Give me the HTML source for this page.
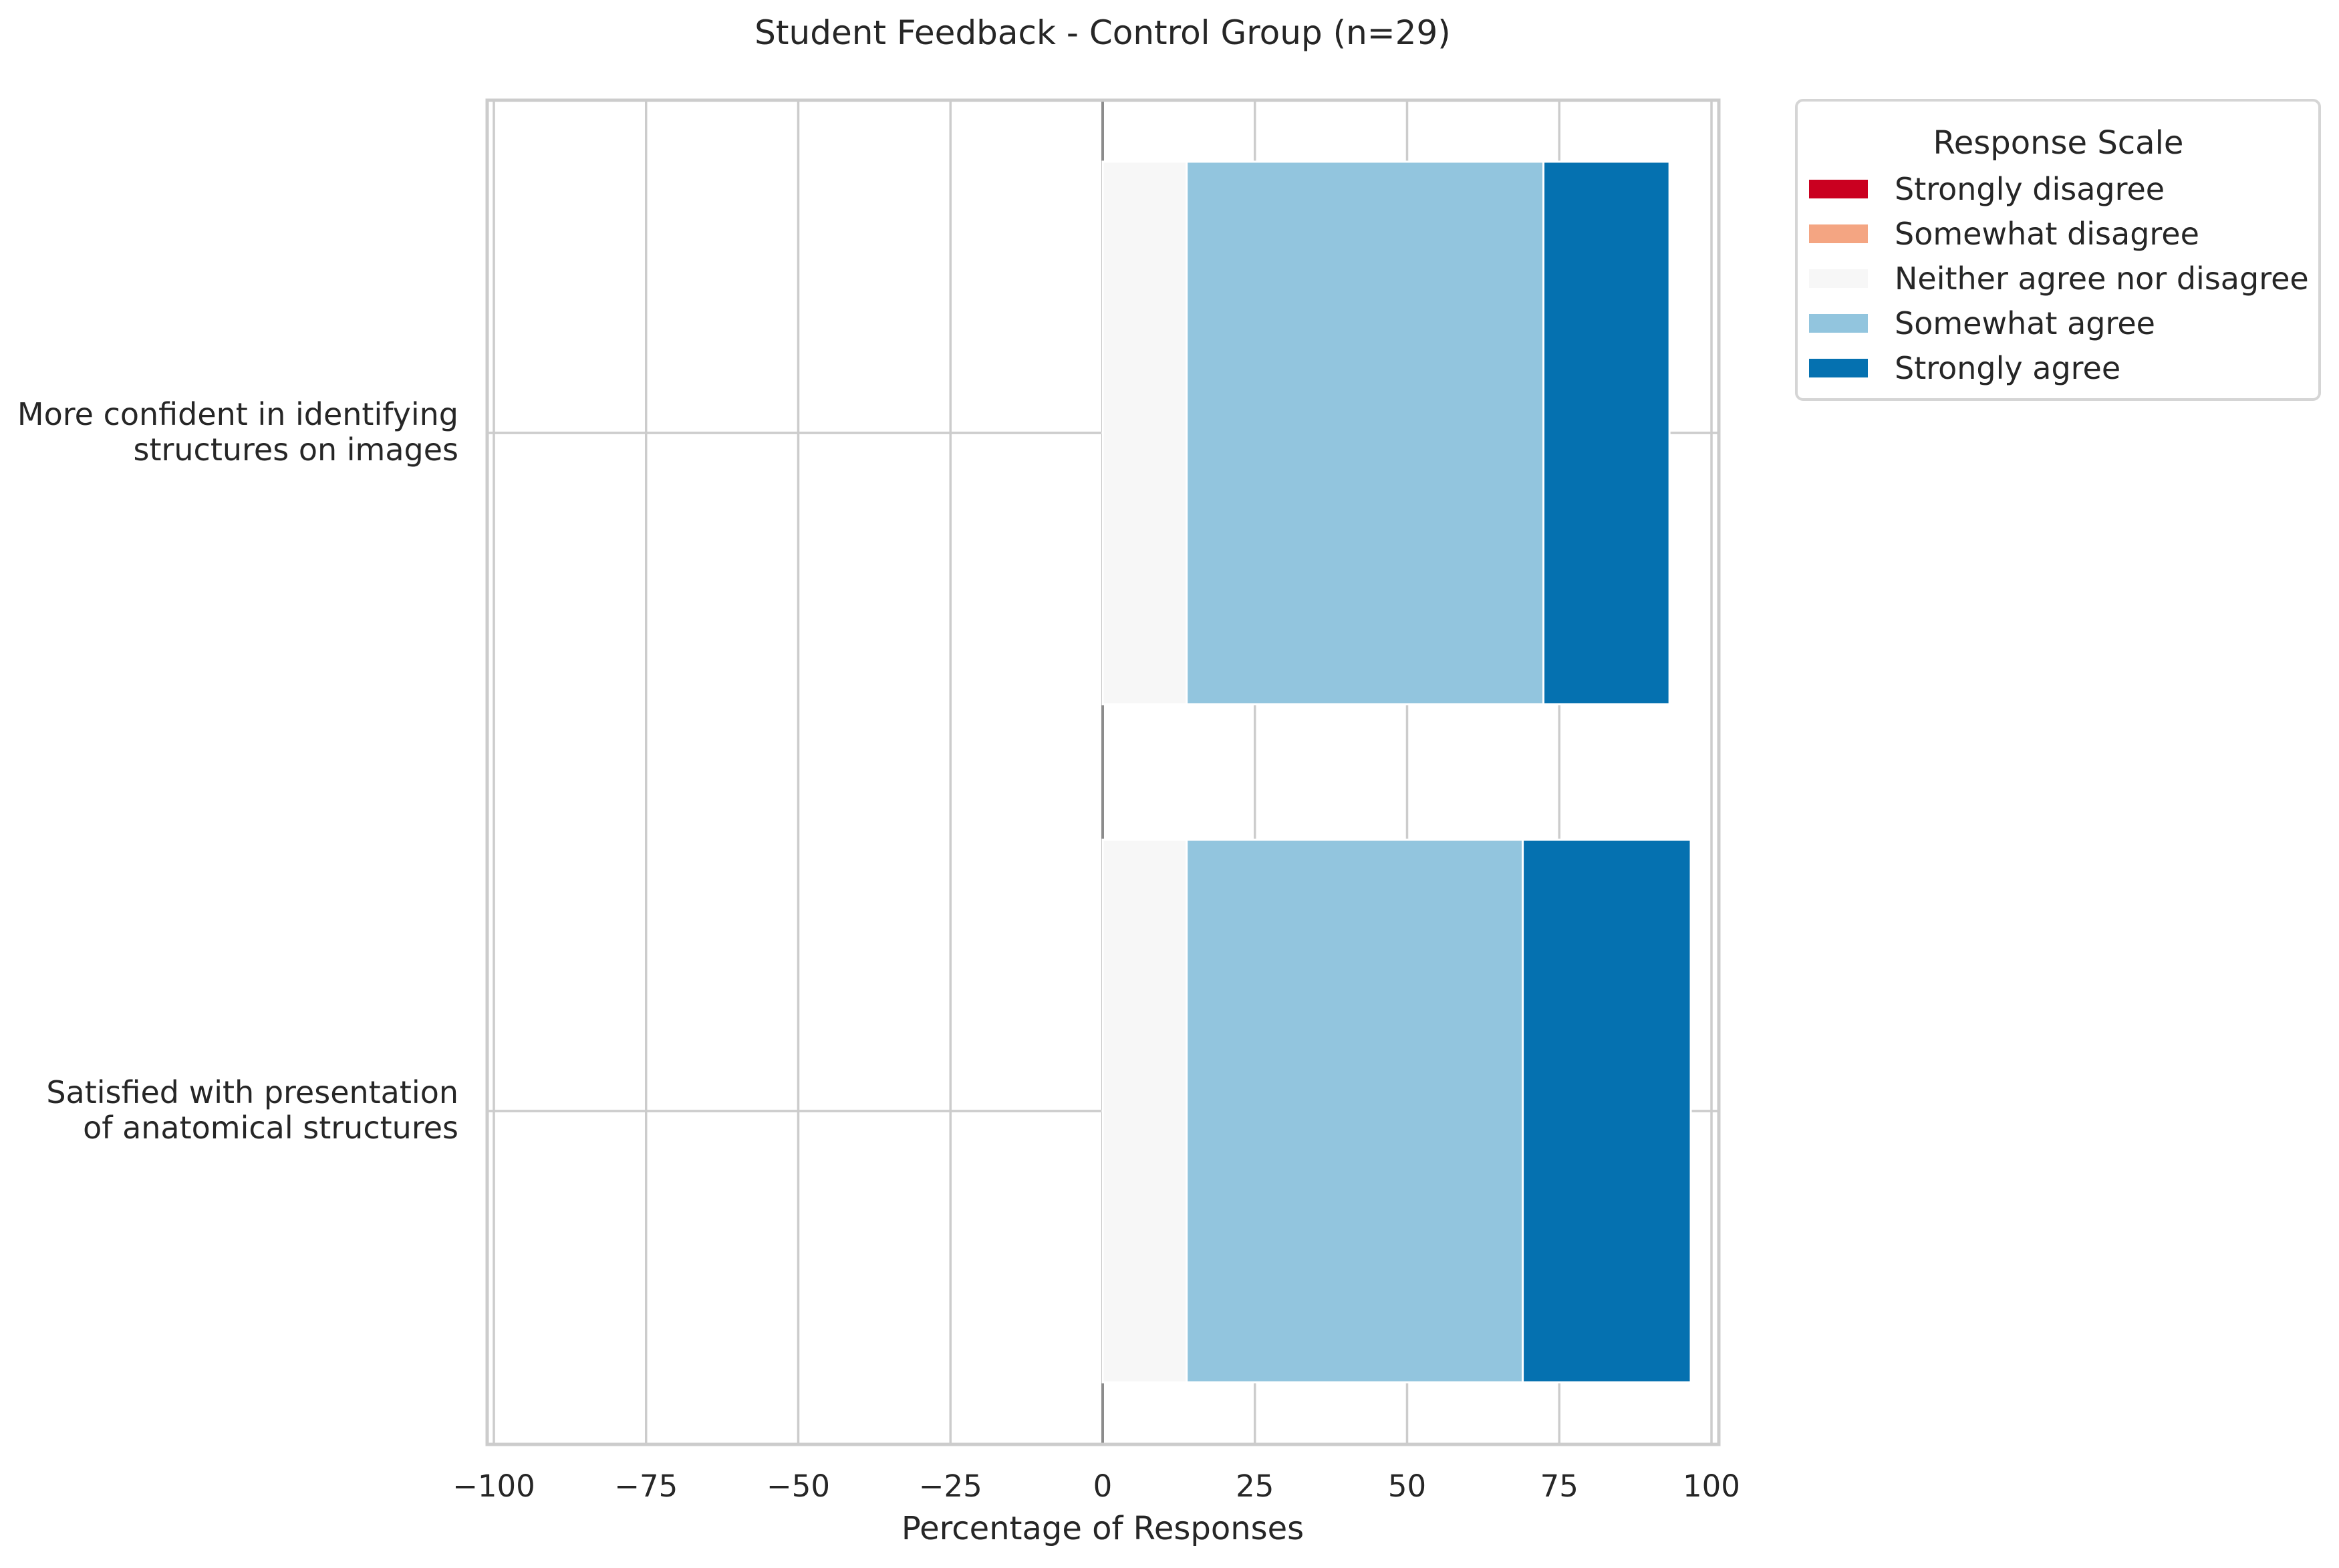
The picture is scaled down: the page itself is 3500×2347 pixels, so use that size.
<!DOCTYPE html>
<html><head><meta charset="utf-8"><style>
html,body{margin:0;padding:0;background:#fff}
svg text{font-family:"DejaVu Sans","Liberation Sans",sans-serif;fill:#262626}
</style></head><body>
<svg id="chart" width="3500" height="2342" xmlns="http://www.w3.org/2000/svg">
<text x="1650" y="66" font-size="50" text-anchor="middle">Student Feedback - Control Group (n=29)</text>
<g id="grid"></g>
<g id="bars"></g>
<rect x="729" y="150" width="1843" height="2012" fill="none" stroke="#cccccc" stroke-width="5"/>
<g id="xticks"></g>
<g id="ylabels"></g>
<text x="1650" y="2304" font-size="48" text-anchor="middle">Percentage of Responses</text>
<g>
<rect x="2688" y="150" width="783" height="448" rx="10" fill="#fff" stroke="#d5d5d5" stroke-width="4"/>
<text x="3080" y="230" font-size="48" text-anchor="middle">Response Scale</text>
<g id="legend-items"></g>
</g>
</svg>
<script>
const questions = ["More confident in identifying\nstructures on images", "Satisfied with presentation\nof anatomical structures"];
const categories = ["Strongly disagree","Somewhat disagree","Neither agree nor disagree","Somewhat agree","Strongly agree"];
const colors = ["#ca0020","#f4a582","#f7f7f7","#92c5de","#0571b0"];
const neutral = [13.8, 13.8];
const somewhatAgree = [58.6, 55.2];
const stronglyAgree = [20.7, 27.6];
const xTicks = [-100,-75,-50,-25,0,25,50,75,100];

(function(){
const NS="http://www.w3.org/2000/svg";
const x0=1650, pxPer=9.11;
const xs=v=>x0+v*pxPer;
const plotTop=150, plotBottom=2162;
const band=1015;
const yc=i=>648+band*i;
const barH=band*0.8;
function mk(tag,attrs,parent){const e=document.createElementNS(NS,tag);for(const k in attrs)e.setAttribute(k,attrs[k]);parent.appendChild(e);return e;}
const grid=document.getElementById('grid');
xTicks.forEach(t=>{
 const l=mk('line',{x1:xs(t),x2:xs(t),y1:plotTop,y2:plotBottom,stroke:t===0?'#8c8c8c':'#cccccc','stroke-width':t===0?4:3.5},grid);
 
 
});
questions.forEach((q,i)=>{
 const l=mk('line',{x1:729,x2:2572,y1:yc(i),y2:yc(i),stroke:'#cccccc','stroke-width':3.5},grid);
 
 
});
const bars=document.getElementById('bars');
questions.forEach((q,i)=>{
 const segs=[[neutral[i],2],[somewhatAgree[i],3],[stronglyAgree[i],4]];
 let start=0;
 segs.forEach(([v,c])=>{
  const r=mk('rect',{x:xs(start),y:yc(i)-barH/2,width:v*pxPer,height:barH,fill:colors[c],stroke:'#fff','stroke-width':3},bars);
  
  
  start+=v;
 });
});
const xt=document.getElementById('xticks');
xTicks.forEach(t=>{
 const e=mk('text',{x:xs(t),y:2240,'font-size':45,'text-anchor':'middle'},xt);
 e.textContent=(t<0?'\u2212'+(-t):''+t);
 
 
});
const yl=document.getElementById('ylabels');
questions.forEach((q,i)=>{
 const lines=q.split('\n');
 lines.forEach((ln,j)=>{
  const e=mk('text',{x:686,y:yc(i)-26+j*53+14,'font-size':46,'text-anchor':'end'},yl);
  e.textContent=ln;
  
  
 });
});
const li=document.getElementById('legend-items');
categories.forEach((c,k)=>{
 const y=283+k*67;
 const r=mk('rect',{x:2707,y:y-14,width:88,height:28,fill:colors[k]},li);
 
 
 const t=mk('text',{x:2835,y:y+16,'font-size':46},li);
 t.textContent=c;
 
 
});
})();
</script>
</body></html>
